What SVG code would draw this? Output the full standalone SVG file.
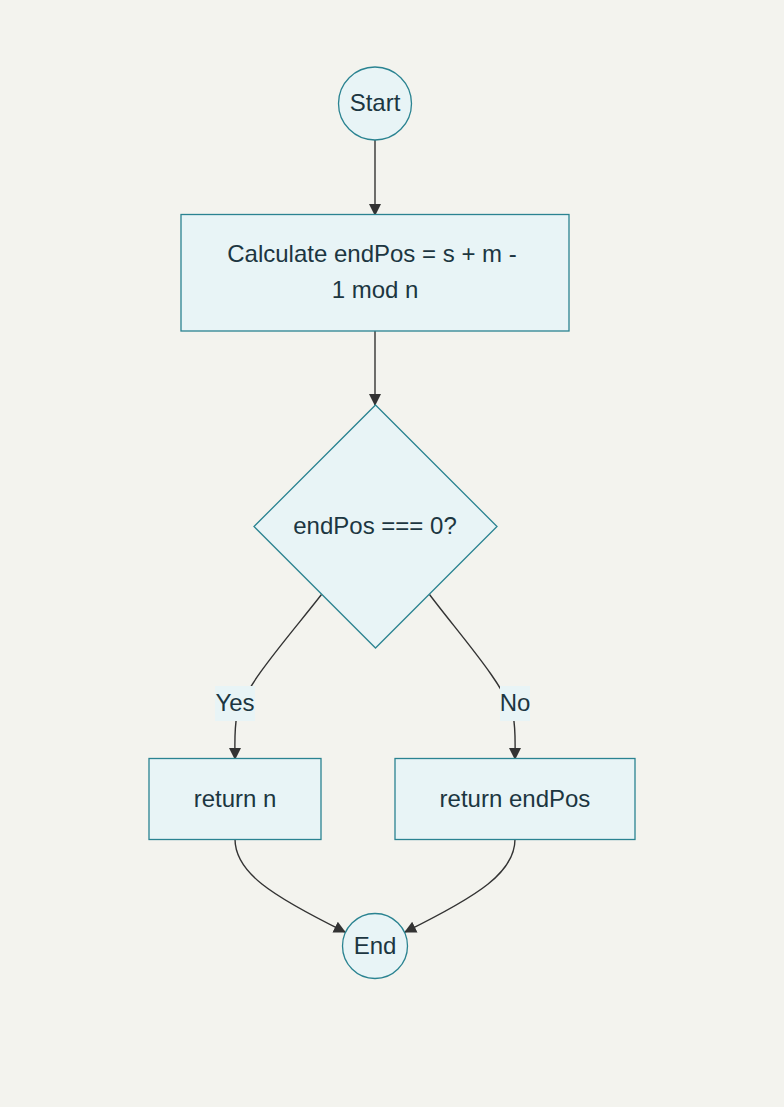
<svg xmlns="http://www.w3.org/2000/svg" width="784" height="1107" viewBox="0 0 784 1107">
<style>
.node{fill:#e8f4f6;stroke:#2a8391;stroke-width:1.3}
.t{font-family:"Liberation Sans",Arial,sans-serif;font-size:24px;fill:#1c3641;text-anchor:middle;dominant-baseline:central}
.e{fill:none;stroke:#333;stroke-width:1.4}
.lb{fill:#e8f4f6}
</style>
<defs>
<marker id="ah" viewBox="0 0 12 12" refX="11" refY="6" markerWidth="12" markerHeight="12" markerUnits="userSpaceOnUse" orient="auto">
<path d="M0,0 L12,6 L0,12 z" fill="#333"/>
</marker>
</defs>
<rect width="784" height="1107" fill="#f3f3ee"/>
<g id="edges">
<path class="e" d="M375,140 L375,215" marker-end="url(#ah)"/>
<path class="e" d="M375,331 L375,405" marker-end="url(#ah)"/>
<path class="e" d="M321.5,594.5 C290,635 245,685 237,715 C234,730 235,745 235,759" marker-end="url(#ah)"/>
<path class="e" d="M429.5,594.5 C460,635 505,685 513,715 C516,730 515,745 515,759" marker-end="url(#ah)"/>
<path class="e" d="M235,839 C235,872 270,895 345,932" marker-end="url(#ah)"/>
<path class="e" d="M515,839 C515,872 480,895 405,932" marker-end="url(#ah)"/>
<rect class="lb" x="215" y="686" width="40" height="35"/>
<text class="t" x="235" y="702">Yes</text>
<rect class="lb" x="500" y="686" width="30" height="35"/>
<text class="t" x="515" y="702">No</text>
</g>
<g id="start">
<circle class="node" cx="375" cy="103.5" r="36.5"/>
<text class="t" x="375" y="102">Start</text>
</g>
<g id="calc">
<rect class="node" x="181" y="214.5" width="388" height="116.5"/>
<text class="t" x="372" y="253">Calculate endPos = s + m -</text>
<text class="t" x="375" y="289">1 mod n</text>
</g>
<g id="decision">
<polygon class="node" points="375.5,405 497,526.5 375.5,648 254,526.5"/>
<text class="t" x="375" y="525">endPos === 0?</text>
</g>
<g id="retn">
<rect class="node" x="149" y="758.5" width="172" height="81"/>
<text class="t" x="235" y="798">return n</text>
</g>
<g id="retpos">
<rect class="node" x="395" y="758.5" width="240" height="81"/>
<text class="t" x="515" y="798">return endPos</text>
</g>
<g id="end">
<circle class="node" cx="375" cy="946" r="32.5"/>
<text class="t" x="375" y="945">End</text>
</g>
</svg>
